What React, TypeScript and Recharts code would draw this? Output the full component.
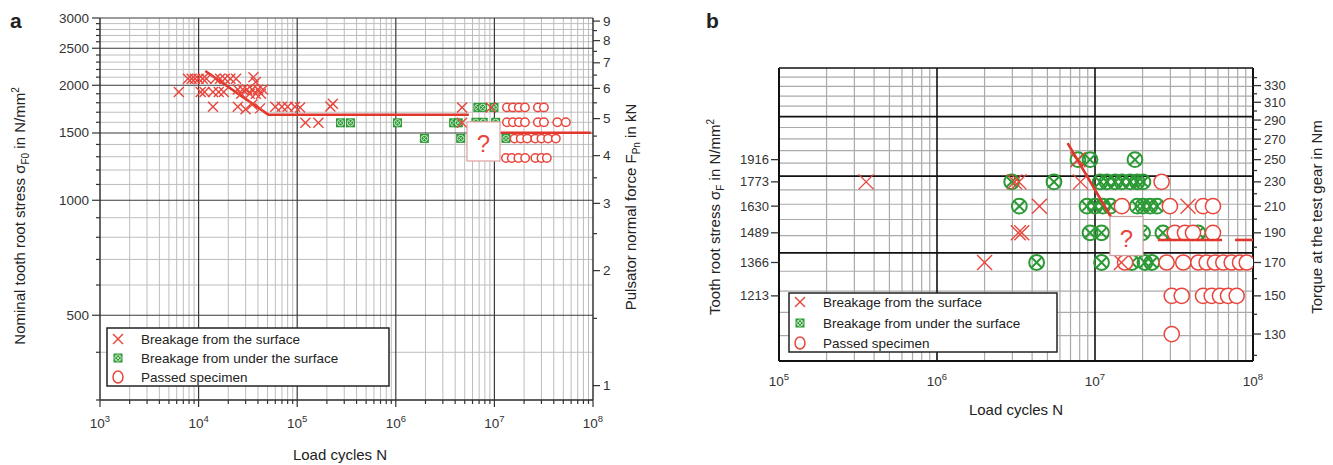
import React from "react";
import { ScatterChart, Scatter, XAxis, YAxis, ReferenceLine } from "recharts";

type Pt = [number, number];

// ---- panel a: load cycles N vs nominal tooth root stress (N/mm²)
const aSurface: Pt[] = [
  [6.3e3, 1920], [7.8e3, 2080], [8.5e3, 2080], [9.2e3, 2080], [1.0e4, 2080], [1.1e4, 2080], [1.2e4, 2080],
  [1.05e4, 1920], [1.15e4, 1920], [1.48e4, 2080], [1.65e4, 2080], [1.85e4, 2080], [2.1e4, 2080], [2.4e4, 2080],
  [1.4e4, 1920], [1.6e4, 1920], [1.8e4, 1920], [1.4e4, 1757],
  [2.5e4, 1950], [2.8e4, 1950], [3.1e4, 1950], [3.5e4, 1950], [4.0e4, 1950], [4.5e4, 1950],
  [2.7e4, 1900], [3.3e4, 1900], [3.8e4, 1900], [4.3e4, 1900], [3.6e4, 2100], [3.8e4, 2040],
  [2.5e4, 1757], [3.0e4, 1730], [3.5e4, 1780], [4.2e4, 1740],
  [6.0e4, 1757], [7.0e4, 1757], [8.0e4, 1757], [9.5e4, 1757], [1.07e5, 1750],
  [2.17e5, 1760], [2.3e5, 1790], [1.21e5, 1595], [1.64e5, 1595],
  [4.7e6, 1750], [4.7e6, 1595], [9.2e6, 1750],
];
const aUnder: Pt[] = [
  [2.75e5, 1595], [3.47e5, 1595], [1.04e6, 1595], [1.95e6, 1452], [3.86e6, 1595], [4.3e6, 1595],
  [4.55e6, 1452], [6.8e6, 1750], [7.6e6, 1750], [9.9e6, 1750], [6.5e6, 1600], [7.7e6, 1600],
  [1.03e7, 1600], [1.31e7, 1452],
];
const aPassed: Pt[] = [
  [1.34e7, 1750], [1.54e7, 1750], [1.77e7, 1750], [2.04e7, 1750], [2.76e7, 1750], [3.18e7, 1750],
  [1.34e7, 1600], [1.54e7, 1600], [1.77e7, 1600], [2.04e7, 1600], [2.76e7, 1600], [3.18e7, 1600],
  [4.35e7, 1600], [5.3e7, 1600],
  [1.6e7, 1450], [1.85e7, 1450], [2.15e7, 1450], [2.6e7, 1450], [3.0e7, 1450], [3.5e7, 1450], [4.2e7, 1450],
  [1.31e7, 1290], [1.5e7, 1290], [1.75e7, 1290], [2.05e7, 1290], [2.6e7, 1290], [3.0e7, 1290], [3.4e7, 1290],
];
const aLineLeft: Pt[] = [[1.17e4, 2180], [5.1e4, 1675], [5.5e6, 1675]];
const aLineRight: Pt[] = [[1.16e7, 1502], [9.5e7, 1502]];

const aStressMajor = [500, 1000, 1500, 2000, 2500, 3000];
const aStressMinor = [300, 400, 600, 700, 800, 900, 1100, 1200, 1300, 1400, 1600, 1700, 1800, 1900, 2100, 2200, 2300, 2400, 2600, 2700, 2800, 2900];
const aForceMajor = [1, 2, 3, 4, 5, 6, 7, 8, 9];
const aForceMinor = [1.5, 2.5, 3.5, 4.5, 5.5, 6.5, 7.5, 8.5];
const aDecades = [1e3, 1e4, 1e5, 1e6, 1e7, 1e8];

// ---- panel b: load cycles N vs torque at the test gear (Nm)
const bSurface: Pt[] = [
  [3.56e5, 230], [2.0e6, 170], [3.3e6, 230], [3.1e6, 230], [4.45e6, 210], [3.27e6, 190], [3.44e6, 190],
  [7.8e6, 250], [8.1e6, 230], [1.47e7, 170], [3.88e7, 210],
];
const bUnder: Pt[] = [
  [7.8e6, 250], [9.3e6, 250], [1.79e7, 250],
  [2.97e6, 230], [5.5e6, 230], [1.08e7, 230], [1.19e7, 230], [1.34e7, 230], [1.48e7, 230], [1.67e7, 230], [1.85e7, 230], [2.01e7, 230],
  [3.32e6, 210], [8.9e6, 210], [1.0e7, 210], [1.12e7, 210], [1.25e7, 210], [1.85e7, 210], [2.01e7, 210], [2.23e7, 210], [2.47e7, 210],
  [9.3e6, 190], [1.1e7, 190], [2.0e7, 190], [2.69e7, 190], [4.49e7, 190],
  [4.27e6, 170], [1.1e7, 170], [1.71e7, 170], [2.07e7, 170], [2.29e7, 170],
];
const bPassed: Pt[] = [
  [2.64e7, 230],
  [1.48e7, 210], [2.98e7, 210], [4.83e7, 210], [5.58e7, 210],
  [3.2e7, 190], [3.71e7, 190], [4.17e7, 190], [5.58e7, 190],
  [1.55e7, 170], [2.84e7, 170], [3.62e7, 170], [4.51e7, 170], [5.09e7, 170], [5.75e7, 170], [6.49e7, 170], [7.33e7, 170], [8.28e7, 170], [9.13e7, 170],
  [3.06e7, 150], [3.54e7, 150], [4.83e7, 150], [5.48e7, 150], [6.18e7, 150], [6.95e7, 150], [7.88e7, 150],
  [3.06e7, 130],
];
const bLineSlope: Pt[] = [[6.71e6, 266], [1.3e7, 199]];
const bLineFlat1: Pt[] = [[2.5e7, 185], [6.37e7, 185]];
const bLineFlat2: Pt[] = [[7.7e7, 185], [1.06e8, 185]];

const bStressMajor = [1500, 2000, 2500, 3000];
const bStressMinor = [1100, 1200, 1300, 1400, 1600, 1700, 1800, 1900, 2100, 2200, 2300, 2400, 2600, 2700, 2800, 2900];
const bTorqueMajor = [130, 150, 170, 190, 210, 230, 250, 270, 290, 310, 330];
const bTorqueMinor = [120, 140, 160, 180, 200, 220, 240, 260, 280, 300, 320, 340];
const bStressLabelAt = [250, 230, 210, 190, 170, 150];
const bStressLabels = ["1916", "1773", "1630", "1489", "1366", "1213"];
const bDecades = [1e5, 1e6, 1e7, 1e8];

const MULTS = [2, 3, 4, 5, 6, 7, 8, 9];
const minorsOf = (decades: number[]) => decades.slice(0, -1).flatMap((d) => MULTS.map((m) => m * d));

const RED = "#e8463d";
const LINE_RED = "#e2352b";
const GREEN = "#2b9a35";
const AX = "#333";
const FONT = "'Liberation Sans', Arial, sans-serif";

const pts = (a: Pt[]) => a.map(([n, v]) => ({ n, v }));

function XMark({ cx, cy, r }: { cx: number; cy: number; r: number }) {
  return (
    <g stroke={RED} strokeWidth={1.4}>
      <line x1={cx - r} y1={cy - r} x2={cx + r} y2={cy + r} />
      <line x1={cx - r} y1={cy + r} x2={cx + r} y2={cy - r} />
    </g>
  );
}
function GreenSmall({ cx, cy }: { cx: number; cy: number }) {
  return (
    <g>
      <rect x={cx - 4.5} y={cy - 4.5} width={9} height={9} fill={GREEN} />
      <circle cx={cx} cy={cy} r={3.2} fill="none" stroke="#bfe3bf" strokeWidth={1} />
      <line x1={cx - 2.3} y1={cy - 2.3} x2={cx + 2.3} y2={cy + 2.3} stroke="#bfe3bf" strokeWidth={1} />
      <line x1={cx - 2.3} y1={cy + 2.3} x2={cx + 2.3} y2={cy - 2.3} stroke="#bfe3bf" strokeWidth={1} />
    </g>
  );
}
function GreenBig({ cx, cy }: { cx: number; cy: number }) {
  const d = 5.2;
  return (
    <g stroke={GREEN} strokeWidth={2} fill="none">
      <circle cx={cx} cy={cy} r={7.4} />
      <line x1={cx - d} y1={cy - d} x2={cx + d} y2={cy + d} />
      <line x1={cx - d} y1={cy + d} x2={cx + d} y2={cy - d} />
    </g>
  );
}
function OMark({ cx, cy, r }: { cx: number; cy: number; r: number }) {
  return <circle cx={cx} cy={cy} r={r} fill="#fff" stroke={RED} strokeWidth={1.5} />;
}
const noDot = () => <g />;

const isDecade = (v: number) => Math.abs(Math.log10(v) - Math.round(Math.log10(v))) < 1e-9;

function PowLabel({ x, y, v }: { x: number; y: number; v: number }) {
  return (
    <text x={x} y={y} textAnchor="middle" fontSize={13.5} fill={AX} fontFamily={FONT}>
      10<tspan dy={-6} fontSize={9.5}>{Math.round(Math.log10(v))}</tspan>
    </text>
  );
}

const ATickBottom = (p: any) => {
  const { x, y, payload } = p;
  const major = isDecade(payload.value);
  return (
    <g>
      <line x1={x} x2={x} y1={y} y2={y + (major ? 7 : 4)} stroke={AX} strokeWidth={1.2} />
      {major && <PowLabel x={x} y={y + 28} v={payload.value} />}
    </g>
  );
};
const ATickLeft = (p: any) => {
  const { x, y, payload } = p;
  const major = aStressMajor.includes(payload.value);
  return (
    <g>
      <line x1={x - (major ? 8 : 4)} x2={x} y1={y} y2={y} stroke={AX} strokeWidth={1.2} />
      {major && (
        <text x={x - 11} y={y + 4.5} textAnchor="end" fontSize={13.5} fill={AX} fontFamily={FONT}>{payload.value}</text>
      )}
    </g>
  );
};
const ATickRight = (p: any) => {
  const { x, y, payload } = p;
  const major = aForceMajor.includes(payload.value);
  return (
    <g>
      <line x1={x} x2={x + (major ? 7 : 4)} y1={y} y2={y} stroke={AX} strokeWidth={1.2} />
      {major && (
        <text x={x + 10} y={y + 4.5} textAnchor="start" fontSize={13.5} fill={AX} fontFamily={FONT}>{payload.value}</text>
      )}
    </g>
  );
};
const BTickBottom = (p: any) => <PowLabel x={p.x} y={p.y + 25} v={p.payload.value} />;
const BTickLeft = (p: any) => {
  const { x, y, payload } = p;
  const i = bStressLabelAt.indexOf(payload.value);
  return (
    <g>
      <line x1={x - 8} x2={x} y1={y} y2={y} stroke={AX} strokeWidth={1.3} />
      <text x={x - 10} y={y + 4.5} textAnchor="end" fontSize={13} fill={AX} fontFamily={FONT}>{bStressLabels[i]}</text>
    </g>
  );
};
const BTickRight = (p: any) => {
  const { x, y, payload } = p;
  const major = bTorqueMajor.includes(payload.value);
  return (
    <g>
      <line x1={x} x2={x + (major ? 8 : 4)} y1={y} y2={y} stroke={AX} strokeWidth={1.3} />
      {major && (
        <text x={x + 11} y={y + 4.5} textAnchor="start" fontSize={13} fill={AX} fontFamily={FONT}>{payload.value}</text>
      )}
    </g>
  );
};

function PanelA() {
  const xMinor = minorsOf(aDecades);
  return (
    <ScatterChart width={660} height={465} margin={{ top: 18, right: 27, bottom: 35, left: 40 }}>
      <XAxis dataKey="n" type="number" scale="log" domain={[1e3, 1e8]} allowDataOverflow
        ticks={[...aDecades, ...xMinor]} interval={0} tickSize={0} tickMargin={0} height={30}
        tick={ATickBottom} tickLine={false} stroke={AX} strokeWidth={1.5} />
      <YAxis yAxisId="s" dataKey="v" type="number" scale="log" domain={[300, 3000]} allowDataOverflow
        ticks={[...aStressMajor, ...aStressMinor]} interval={0} tickSize={0} tickMargin={0} width={60}
        tick={ATickLeft} tickLine={false} stroke={AX} strokeWidth={1.5} />
      <YAxis yAxisId="f" orientation="right" type="number" scale="log" domain={[0.917, 9.17]} allowDataOverflow
        ticks={[...aForceMajor, ...aForceMinor]} interval={0} tickSize={0} tickMargin={0} width={40}
        tick={ATickRight} tickLine={false} stroke={AX} strokeWidth={1.5} />
      {xMinor.map((v) => <ReferenceLine key={"xm" + v} x={v} yAxisId="s" stroke="#bdbdbd" strokeWidth={1} />)}
      {aStressMinor.map((v) => <ReferenceLine key={"ym" + v} y={v} yAxisId="s" stroke="#bdbdbd" strokeWidth={1} />)}
      {aDecades.slice(1, -1).map((v) => <ReferenceLine key={"xM" + v} x={v} yAxisId="s" stroke="#3a3a3a" strokeWidth={1.2} />)}
      {aStressMajor.map((v) => <ReferenceLine key={"yM" + v} y={v} yAxisId="s" stroke="#3a3a3a" strokeWidth={1.2} />)}
      <Scatter yAxisId="s" data={pts(aLineLeft)} line={{ stroke: LINE_RED, strokeWidth: 2.6 }} lineType="joint" shape={noDot} fill={LINE_RED} isAnimationActive={false} />
      <Scatter yAxisId="s" data={pts(aLineRight)} line={{ stroke: LINE_RED, strokeWidth: 2.6 }} lineType="joint" shape={noDot} fill={LINE_RED} isAnimationActive={false} />
      <Scatter yAxisId="s" data={pts(aUnder)} shape={(p: any) => <GreenSmall cx={p.cx} cy={p.cy} />} isAnimationActive={false} />
      <Scatter yAxisId="s" data={pts(aPassed)} shape={(p: any) => <OMark cx={p.cx} cy={p.cy} r={4.2} />} isAnimationActive={false} />
      <Scatter yAxisId="s" data={pts(aSurface)} shape={(p: any) => <XMark cx={p.cx} cy={p.cy} r={5} />} isAnimationActive={false} />
    </ScatterChart>
  );
}

function PanelB() {
  const xMinor = minorsOf(bDecades);
  return (
    <ScatterChart width={653} height={465} margin={{ top: 68, right: 40, bottom: 74, left: 49 }}>
      <XAxis dataKey="n" type="number" scale="log" domain={[1e5, 1e8]} allowDataOverflow
        ticks={bDecades} interval={0} tickSize={0} tickMargin={0} height={30}
        tick={BTickBottom} tickLine={false} stroke="#111" strokeWidth={2} />
      <YAxis yAxisId="t" dataKey="v" type="number" scale="log" domain={[117.5, 352.5]} allowDataOverflow
        ticks={bStressLabelAt} interval={0} tickSize={0} tickMargin={0} width={50}
        tick={BTickLeft} tickLine={false} stroke="#111" strokeWidth={2} />
      <YAxis yAxisId="tr" orientation="right" type="number" scale="log" domain={[117.5, 352.5]} allowDataOverflow
        ticks={[...bTorqueMajor, ...bTorqueMinor]} interval={0} tickSize={0} tickMargin={0} width={40}
        tick={BTickRight} tickLine={false} stroke="#111" strokeWidth={2} />
      <YAxis yAxisId="s" hide orientation="right" width={0} type="number" scale="log" domain={[1000, 3000]} allowDataOverflow />
      {xMinor.map((v) => <ReferenceLine key={"xm" + v} x={v} yAxisId="s" stroke="#aaa" strokeWidth={1.2} />)}
      {bStressMinor.map((v) => <ReferenceLine key={"ym" + v} y={v} yAxisId="s" stroke="#aaa" strokeWidth={1.2} />)}
      {bDecades.slice(1, -1).map((v) => <ReferenceLine key={"xM" + v} x={v} yAxisId="s" stroke="#111" strokeWidth={1.6} />)}
      {bStressMajor.map((v) => <ReferenceLine key={"yM" + v} y={v} yAxisId="s" stroke="#111" strokeWidth={1.6} />)}
      <Scatter yAxisId="t" data={pts(bUnder)} shape={(p: any) => <GreenBig cx={p.cx} cy={p.cy} />} isAnimationActive={false} />
      <Scatter yAxisId="t" data={pts(bPassed)} shape={(p: any) => <OMark cx={p.cx} cy={p.cy} r={7.6} />} isAnimationActive={false} />
      <Scatter yAxisId="t" data={pts(bSurface)} shape={(p: any) => <XMark cx={p.cx} cy={p.cy} r={7.5} />} isAnimationActive={false} />
      <Scatter yAxisId="t" data={pts(bLineSlope)} line={{ stroke: LINE_RED, strokeWidth: 2.6 }} lineType="joint" shape={noDot} fill={LINE_RED} isAnimationActive={false} />
      <Scatter yAxisId="t" data={pts(bLineFlat1)} line={{ stroke: LINE_RED, strokeWidth: 2.6 }} lineType="joint" shape={noDot} fill={LINE_RED} isAnimationActive={false} />
      <Scatter yAxisId="t" data={pts(bLineFlat2)} line={{ stroke: LINE_RED, strokeWidth: 2.6 }} lineType="joint" shape={noDot} fill={LINE_RED} isAnimationActive={false} />
    </ScatterChart>
  );
}

function LegendBox({ x, y, w, h, rows }: { x: number; y: number; w: number; h: number; rows: number[] }) {
  const mx = x + 11;
  const tx = x + 34;
  return (
    <g fontFamily={FONT} fontSize={13.5} fill="#222">
      <rect x={x} y={y} width={w} height={h} fill="#fff" stroke="#222" strokeWidth={1.5} />
      <XMark cx={mx} cy={rows[0]} r={5} />
      <GreenSmall cx={mx} cy={rows[1]} />
      <ellipse cx={mx} cy={rows[2]} rx={5} ry={6} fill="#fff" stroke={RED} strokeWidth={1.5} />
      <text x={tx} y={rows[0] + 5}>Breakage from the surface</text>
      <text x={tx} y={rows[1] + 5}>Breakage from under the surface</text>
      <text x={tx} y={rows[2] + 5}>Passed specimen</text>
    </g>
  );
}

function Overlay() {
  return (
    <svg width={1333} height={465} style={{ position: "absolute", left: 0, top: 0, pointerEvents: "none" }}>
      <g fontFamily={FONT} fill="#222">
        <text x={10} y={28} fontSize={21} fontWeight="bold">a</text>
        <text x={706} y={28} fontSize={21} fontWeight="bold">b</text>
        <text transform="translate(25,216) rotate(-90)" textAnchor="middle" fontSize={15}>
          Nominal tooth root stress σ<tspan dy={4} fontSize={10}>F0</tspan><tspan dy={-4}> in N/mm</tspan><tspan dy={-6} fontSize={10}>2</tspan>
        </text>
        <text transform="translate(636,207) rotate(-90)" textAnchor="middle" fontSize={15}>
          Pulsator normal force F<tspan dy={4} fontSize={10}>Pn</tspan><tspan dy={-4}> in kN</tspan>
        </text>
        <text x={340} y={460} textAnchor="middle" fontSize={15}>Load cycles N</text>
        <text transform="translate(720,217) rotate(-90)" textAnchor="middle" fontSize={15}>
          Tooth root stress σ<tspan dy={4} fontSize={10}>F</tspan><tspan dy={-4}> in N/mm</tspan><tspan dy={-6} fontSize={10}>2</tspan>
        </text>
        <text transform="translate(1322,217) rotate(-90)" textAnchor="middle" fontSize={15}>Torque at the test gear in Nm</text>
        <text x={1016} y={415} textAnchor="middle" fontSize={15}>Load cycles N</text>
      </g>
      <LegendBox x={107} y={328} w={282} h={58} rows={[339, 358, 377]} />
      <LegendBox x={789} y={293} w={268} h={59} rows={[302, 323, 343]} />
      <g>
        <rect x={467} y={122} width={33} height={39} fill="#fff" stroke="#e0a0a0" strokeWidth={1.2} />
        <text x={483.5} y={152} textAnchor="middle" fontSize={24} fill={RED} fontFamily={FONT}>?</text>
        <rect x={1110} y={216.5} width={33} height={39} fill="#fff" stroke="#c8a0a0" strokeWidth={1.2} />
        <text x={1126.5} y={246.5} textAnchor="middle" fontSize={24} fill={RED} fontFamily={FONT}>?</text>
      </g>
    </svg>
  );
}

export default function App() {
  return (
    <div style={{ position: "absolute", left: 0, top: 0, width: 1333, height: 465, background: "#fff", overflow: "hidden" }}>
      <div style={{ position: "absolute", left: 0, top: 0 }}>
        <PanelA />
      </div>
      <div style={{ position: "absolute", left: 680, top: 0 }}>
        <PanelB />
      </div>
      <Overlay />
    </div>
  );
}
